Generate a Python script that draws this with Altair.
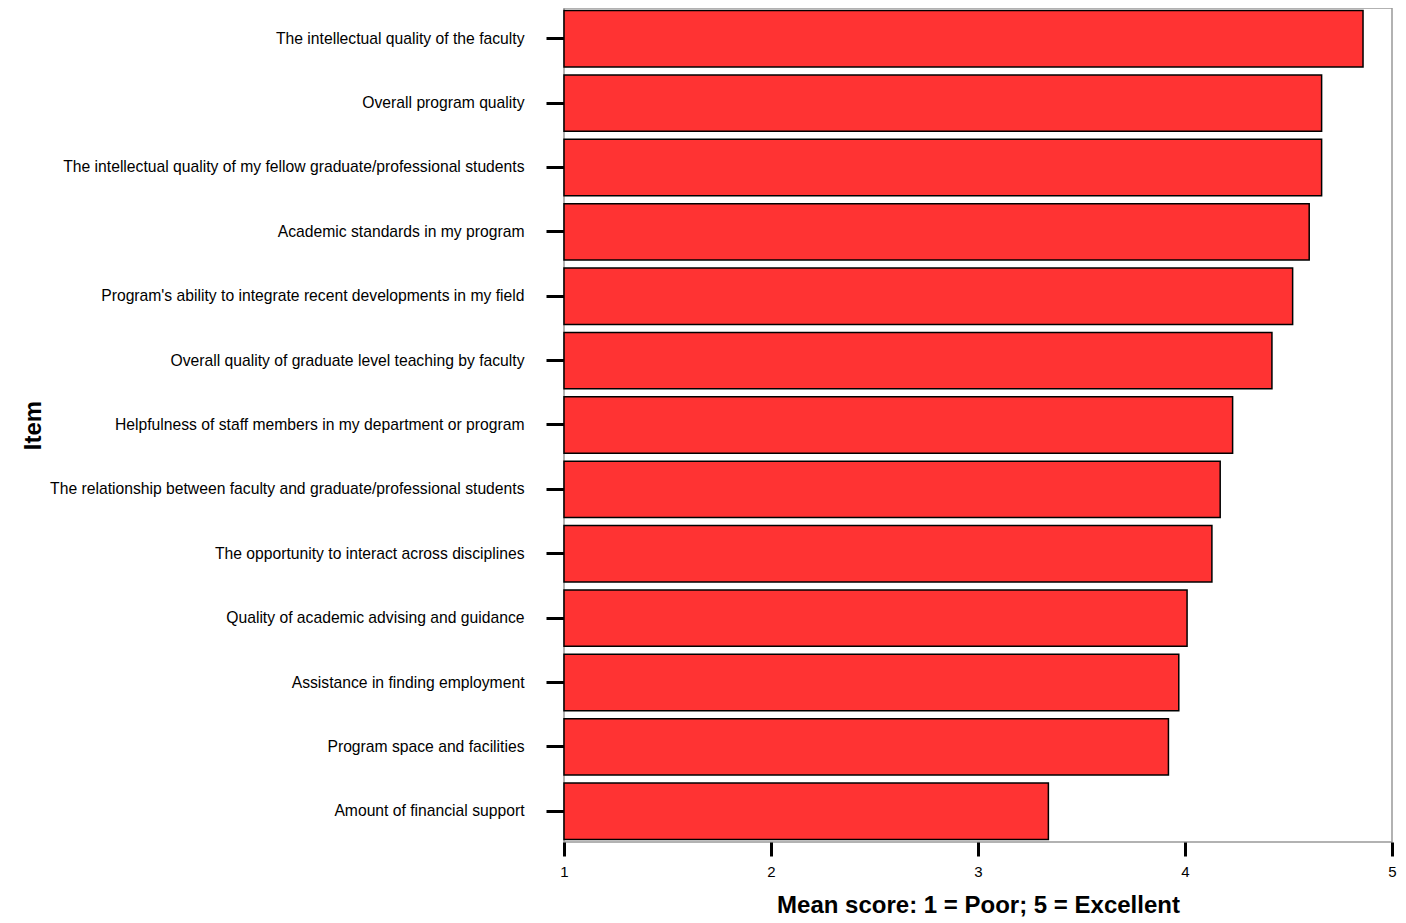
import altair as alt
import pandas as pd

items = [
    "The intellectual quality of the faculty",
    "Overall program quality",
    "The intellectual quality of my fellow graduate/professional students",
    "Academic standards in my program",
    "Program's ability to integrate recent developments in my field",
    "Overall quality of graduate level teaching by faculty",
    "Helpfulness of staff members in my department or program",
    "The relationship between faculty and graduate/professional students",
    "The opportunity to interact across disciplines",
    "Quality of academic advising and guidance",
    "Assistance in finding employment",
    "Program space and facilities",
    "Amount of financial support",
]
means = [4.86, 4.66, 4.66, 4.60, 4.52, 4.42, 4.23, 4.17, 4.13, 4.01, 3.97, 3.92, 3.34]
base_value = 1
x_ticks = [1, 2, 3, 4, 5]

df = pd.DataFrame({"Item": items, "Mean": means, "Base": [base_value] * len(items)})

chart = alt.Chart(df).mark_bar(
    color="#FF3333", stroke="black", strokeWidth=1.5
).encode(
    y=alt.Y("Item:N", sort=items,
            scale=alt.Scale(paddingInner=0.125, paddingOuter=0.04),
            axis=alt.Axis(title="Item", titleFont="Liberation Sans", titleFontSize=24,
                          titleFontWeight="bold", titleColor="black",
                          titleX=-531, titleY=417, titleAngle=270,
                          titleAlign="center", titleBaseline="middle",
                          labelFont="Liberation Sans", labelFontSize=15.7, labelColor="black",
                          labelLimit=700, labelPadding=22, tickSize=18, tickWidth=3,
                          tickColor="black", domain=False)),
    x=alt.X("Mean:Q", scale=alt.Scale(domain=[1, 5], nice=False, zero=False),
            axis=alt.Axis(values=x_ticks, format="d", title="Mean score: 1 = Poor; 5 = Excellent",
                          titleFont="Liberation Sans", titleFontSize=24, titleFontWeight="bold",
                          titleColor="black", titleY=63, titleBaseline="middle",
                          labelFont="Liberation Sans", labelFontSize=15, labelColor="black",
                          labelPadding=8, tickSize=14, tickWidth=3, tickColor="black",
                          domain=False, grid=False, labelFlush=False)),
    x2="Base:Q",
).properties(
    width=828, height=834, autosize="none",
    padding={"left": 556, "top": 0, "right": 6, "bottom": 76},
).configure_view(stroke="#999999", strokeWidth=1.5)

chart.save("out.html", embed_options={"renderer": "svg", "actions": False})
